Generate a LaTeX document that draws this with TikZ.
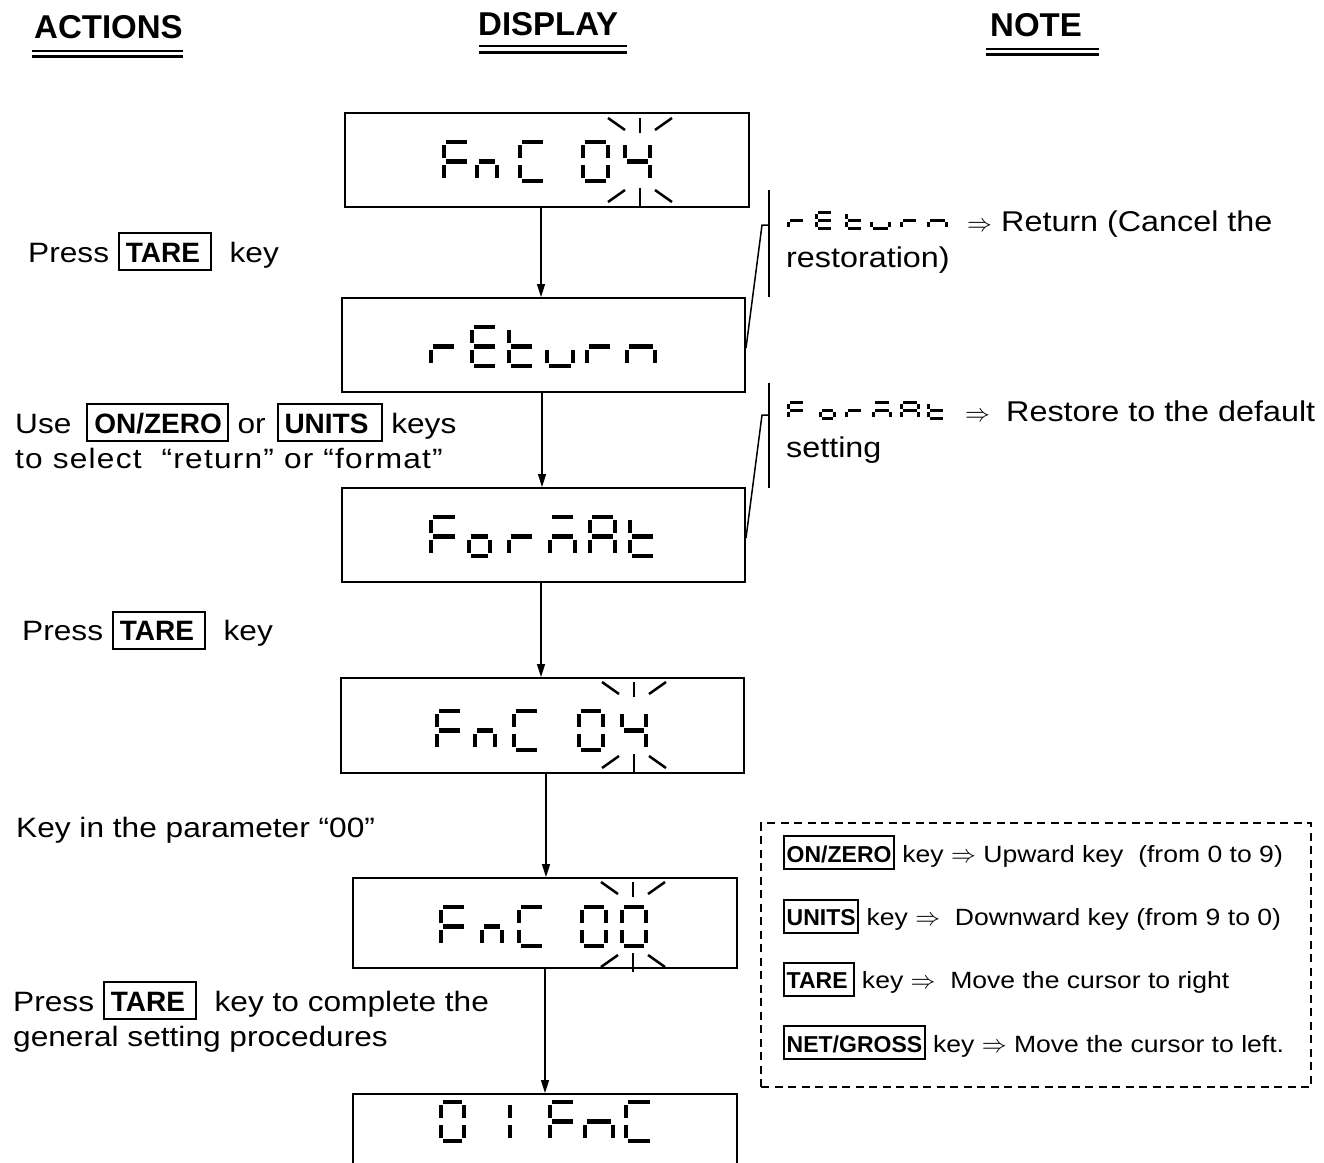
\documentclass[tikz,border=0pt]{standalone}
\usepackage{fontspec}
\setmainfont{Liberation Sans}[FakeStretch=1.13]
\newfontfamily\keyfont{Liberation Sans}
\usetikzlibrary{arrows.meta,calc}

% seven-segment pieces: x, y(top), w, h, t ; gap in \gp
\def\gp{1.1}
\newcommand\sgA[5]{\fill ({#1+#5},{#2}) rectangle ({#1+#3-#5},{#2+#5});}
\newcommand\sgB[5]{\fill ({#1+#3-#5},{#2+#5+\gp}) rectangle ({#1+#3},{#2+#4/2-#5/2-\gp});}
\newcommand\sgC[5]{\fill ({#1+#3-#5},{#2+#4/2+#5/2+\gp}) rectangle ({#1+#3},{#2+#4-#5-\gp});}
\newcommand\sgD[5]{\fill ({#1+#5},{#2+#4-#5}) rectangle ({#1+#3-#5},{#2+#4});}
\newcommand\sgE[5]{\fill ({#1},{#2+#4/2+#5/2+\gp}) rectangle ({#1+#5},{#2+#4-#5-\gp});}
\newcommand\sgF[5]{\fill ({#1},{#2+#5+\gp}) rectangle ({#1+#5},{#2+#4/2-#5/2-\gp});}
\newcommand\sgG[5]{\fill ({#1+#5},{#2+#4/2-#5/2}) rectangle ({#1+#3-#5},{#2+#4/2+#5/2});}
\newcommand\lcd[6]{\foreach \q in {#6}{\csname sg\q\endcsname{#1}{#2}{#3}{#4}{#5}}}
\newcommand\bch[4]{\def\gp{1.1}\lcd{#1}{#2}{#3}{43}{4.3}{#4}}
\newcommand\sch[4]{\def\gp{0.2}\lcd{#1}{#2}{#3}{19}{2.6}{#4}}
% blinking marks: cx, top y, bottom y
\newcommand\blink[3]{%
  \draw[blk] ({#1-32},{#2}) -- ({#1-15},{#2+12});
  \draw[blk] ({#1},{#2}) -- ({#1},{#2+15});
  \draw[blk] ({#1+15},{#2+12}) -- ({#1+32},{#2});
  \draw[blk] ({#1-32},{#3}) -- ({#1-15},{#3-12});
  \draw[blk] ({#1},{#3-14}) -- ({#1},{#3+5});
  \draw[blk] ({#1+15},{#3-12}) -- ({#1+32},{#3});}
% key boxes
\newcommand\kboxA[2][6pt]{{\setlength\fboxrule{2pt}\setlength\fboxsep{0pt}%
  \fbox{\hspace{6pt}\rule[-7pt]{0pt}{35pt}\keyfont\bfseries #2\hspace{#1}}}}
\newcommand\kboxB[2][1.5pt]{{\setlength\fboxrule{2pt}\setlength\fboxsep{0pt}%
  \fbox{\hspace{1.5pt}\rule[-6pt]{0pt}{31pt}\keyfont\bfseries\fontsize{23}{28}\selectfont #2\hspace{#1}}}}

\tikzset{
  txt/.style={anchor=base west, inner sep=0pt, font=\fontsize{28}{34}\selectfont},
  txtn/.style={anchor=base west, inner sep=0pt, font=\fontsize{28.6}{34}\selectfont},
  txtb/.style={anchor=base west, inner sep=0pt, font=\fontsize{23.5}{30}\selectfont},
  head/.style={anchor=base west, inner sep=0pt, font=\keyfont\bfseries\fontsize{33}{38}\selectfont},
  ul/.style={line width=2.8pt},
  disp/.style={draw, line width=2pt, inner sep=0pt},
  arr/.style={-{Triangle[length=13pt,width=8pt]}, line width=1.5pt},
  conn/.style={line width=1.5pt},
  blk/.style={line width=2.5pt},
}

\begin{document}
\begin{tikzpicture}[x=1pt,y=-1pt]
\useasboundingbox (0,0) rectangle (1324,1162);
\clip (0,0) rectangle (1324,1162);

% headings
\node[head] (h1) at (34,38) {ACTIONS};
\node[head] (h2) at (478,35) {DISPLAY};
\node[head] (h3) at (990,36) {NOTE};
\draw[ul] (32,51) -- (183,51);
\draw[ul] (32,56.5) -- (183,56.5);
\draw[ul] (479,46) -- (627,46);
\draw[ul] (479,52.5) -- (627,52.5);
\draw[ul] (986,49) -- (1099,49);
\draw[ul] (986,54.5) -- (1099,54.5);

% display boxes
\node[disp, minimum width=404pt, minimum height=94pt] (d1) at (547,160) {};
\node[disp, minimum width=403pt, minimum height=94pt] (d2) at (543.5,345) {};
\node[disp, minimum width=403pt, minimum height=94pt] (d3) at (543.5,535) {};
\node[disp, minimum width=403pt, minimum height=95pt] (d4) at (542.5,725.5) {};
\node[disp, minimum width=384pt, minimum height=90pt] (d5) at (545,923) {};
\node[disp, minimum width=384pt, minimum height=150pt] (d6) at (545,1169) {};

% arrows
\coordinate (a1) at (541,0);
\coordinate (a2) at (542,0);
\coordinate (a3) at (541,0);
\coordinate (a4) at (546,0);
\coordinate (a5) at (545,0);
\draw[arr] (d1.south -| a1) -- (d2.north -| a1);
\draw[arr] (d2.south -| a2) -- (d3.north -| a2);
\draw[arr] (d3.south -| a3) -- (d4.north -| a3);
\draw[arr] (d4.south -| a4) -- (d5.north -| a4);
\draw[arr] (d5.south -| a5) -- (d6.north -| a5);

% display 1: FnC 04
\bch{442}{140}{29}{A,F,E,G}
\bch{475}{140}{24}{E,G,C}
\bch{518}{140}{29}{A,F,E,D}
\bch{581}{140}{29}{A,B,C,D,E,F}
\bch{623}{140}{29}{F,G,B,C}
\blink{640}{118}{202}
% display 2: rEturn
\bch{429}{325}{29}{E,G}
\bch{470}{325}{29}{A,F,G,E,D}
\bch{507}{325}{29}{F,E,G,D}
\bch{545}{325}{30}{E,D,C}
\bch{585}{325}{29}{E,G}
\bch{625}{325}{32}{E,G,C}
% display 3: ForMAt
\bch{429}{515}{30}{A,F,E,G}
\bch{467}{515}{25}{G,C,D,E}
\bch{507}{515}{29}{E,G}
\bch{548}{515}{29}{A,G,E,C}
\bch{588}{515}{29}{A,B,C,E,F,G}
\bch{628}{515}{29}{F,E,G,D}
% display 4: FnC 04
\bch{435}{709}{29}{A,F,E,G}
\bch{473}{709}{24}{E,G,C}
\bch{512}{709}{29}{A,F,E,D}
\bch{577}{709}{28}{A,B,C,D,E,F}
\bch{620}{709}{28}{F,G,B,C}
\blink{634}{682}{768}
% display 5: FnC 00
\bch{439}{905}{29}{A,F,E,G}
\bch{480}{905}{24}{E,G,C}
\bch{517}{905}{29}{A,F,E,D}
\bch{580}{905}{28}{A,B,C,D,E,F}
\bch{620}{905}{28}{A,B,C,D,E,F}
\blink{633}{882}{967}
% display 6: 01FnC
\bch{439}{1100}{27}{A,B,C,D,E,F}
\bch{479}{1100}{33}{B,C}
\bch{548}{1100}{29}{A,F,E,G}
\bch{583}{1100}{32}{E,G,C}
\bch{624}{1100}{30}{A,F,E,D}

% actions
\node[txt] (t1) at (28,262) {Press \kboxA[10pt]{TARE}\ \ key};
\node[txt] (t2a) at (15,433) {Use\hspace{6pt} \kboxA[5pt]{ON/ZERO} or\hspace{2pt} \kboxA[12pt]{UNITS} keys};
\node[txt] (t2b) at (15,468) {\addfontfeature{LetterSpace=4.4}to select\ \ “return” or “format”};
\node[txt] (t3) at (22,640.5) {Press \kboxA[10pt]{TARE}\ \ key};
\node[txt] (t4) at (16,837) {Key in the parameter “00”};
\node[txt] (t5a) at (13,1011) {Press \kboxA[10pt]{TARE}\ \ key to complete the};
\node[txt] (t5b) at (13,1046) {general setting procedures};

% note 1
\coordinate (b1t) at (769,190);
\coordinate (b1b) at (769,297);
\coordinate (b1k) at (762,225);
\coordinate (b1j) at (769,225);
\draw[conn] (b1t) -- (b1b);
\draw[conn] ([yshift=-3pt]d2.east) -- (b1k) -- (b1j);
\sch{787}{211}{19}{E,G}
\sch{815}{211}{19}{A,F,G,E,D}
\sch{845}{211}{19}{F,E,G,D}
\sch{870}{211}{21}{E,D,C}
\sch{900}{211}{19}{E,G}
\sch{927}{211}{21}{E,G,C}
\node[txtn] (n1r) at (967,231) {$\Rightarrow$};
\node[txtn] (n1a) at (1001,231) {Return (Cancel the};
\node[txtn] (n1b) at (786,267) {restoration)};

% note 2
\coordinate (b2t) at (769,383);
\coordinate (b2b) at (769,488);
\coordinate (b2k) at (762,415);
\coordinate (b2j) at (769,415);
\draw[conn] (b2t) -- (b2b);
\draw[conn] ([yshift=-3pt]d3.east) -- (b2k) -- (b2j);
\sch{787}{401}{19}{A,F,E,G}
\sch{819}{401}{16.5}{G,C,D,E}
\sch{845}{401}{19}{E,G}
\sch{872}{401}{19.5}{A,G,E,C}
\sch{900}{401}{19.5}{A,B,C,E,F,G}
\sch{927}{401}{18.5}{F,E,G,D}
\node[txtn] (n2r) at (965,421) {$\Rightarrow$};
\node[txtn] (n2a) at (1006,421) {Restore to the default};
\node[txtn] (n2b) at (786,457) {setting};

% dashed key box
\node[draw, line width=2.2pt, dash pattern=on 8pt off 5.5pt, minimum width=550pt, minimum height=264pt, inner sep=0pt] (kb) at (1036,955) {};
\node[txtb] (r1) at (783,862) {\kboxB{ON/ZERO} key $\Rightarrow$ Upward key\ \ (from 0 to 9)};
\node[txtb] (r2) at (783,925.5) {\kboxB{UNITS} key $\Rightarrow$\ \ Downward key (from 9 to 0)};
\node[txtb] (r3) at (783,988.5) {\kboxB[5pt]{TARE} key $\Rightarrow$\ \ Move the cursor to right};
\node[txtb] (r4) at (783,1052) {\kboxB{NET/GROSS} key $\Rightarrow$ Move the cursor to left.};
\end{tikzpicture}
\end{document}
